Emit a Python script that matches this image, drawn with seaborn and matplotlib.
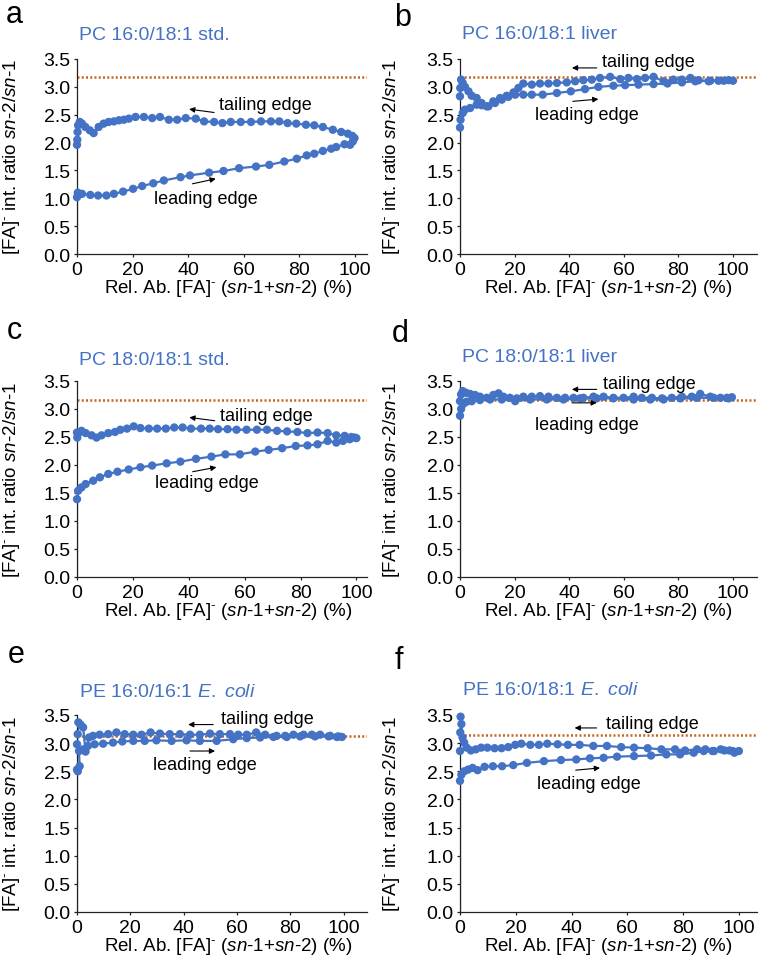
import numpy as np
import pandas as pd
import matplotlib
matplotlib.use("Agg")
import matplotlib.pyplot as plt
import seaborn as sns

# ---------------- data ----------------
# panel a: PC 16:0/18:1 std.
a_lead_x = [0, 0, 0.3, 1.8, 4.8, 7.6, 10.6, 13.3, 16.6, 20.2, 23.5, 27.5, 31.3, 37.3, 40.7, 47.6, 52.8,
            58.4, 64.5, 69.3, 74.7, 79.2, 82.8, 85.5, 88.6, 91.6, 93.4, 96.4, 98.4, 99.4]
a_lead_y = [0, 1.02, 1.10, 1.08, 1.06, 1.05, 1.05, 1.08, 1.12, 1.17, 1.22, 1.27, 1.32, 1.38, 1.41, 1.46, 1.49,
            1.54, 1.57, 1.60, 1.66, 1.71, 1.77, 1.80, 1.85, 1.89, 1.92, 1.97, 1.96, 2.02]
a_tail_x = [100, 99.2, 97.6, 95.2, 92.2, 88.6, 85.5, 82.5, 79, 75.9, 72.9, 69.9, 66.3, 62.7, 59, 55.4, 52.4,
            49.4, 45.8, 42.8, 39.2, 36.1, 33.1, 29.9, 27.1, 24.1, 21.1, 18.7, 16.9, 15.1, 13.3, 11.4, 9.6,
            7.8, 6.0, 4.6, 3.0, 1.8, 1.0, 0.4, 0.2, 0.1, 0]
a_tail_y = [2.08, 2.12, 2.16, 2.19, 2.23, 2.28, 2.31, 2.32, 2.34, 2.35, 2.38, 2.38, 2.38, 2.37, 2.37, 2.37, 2.35,
            2.37, 2.38, 2.43, 2.44, 2.41, 2.41, 2.46, 2.44, 2.46, 2.46, 2.43, 2.41, 2.40, 2.38, 2.37, 2.34,
            2.28, 2.17, 2.22, 2.28, 2.34, 2.37, 2.31, 2.19, 2.05, 1.96]

# panel b: PC 16:0/18:1 liver
b_lead_x = [0, 0, 0.2, 1, 1.8, 3.7, 6.1, 7.9, 10.4, 12.8, 15.3, 17.7, 20.2, 23.2, 26.3, 30.3, 35.5, 40.6,
            45.8, 50.7, 56.2, 60.5, 65.4, 70.9, 76, 81.3, 86.2, 91.7, 96.6, 100]
b_lead_y = [0, 2.27, 2.41, 2.53, 2.59, 2.62, 2.68, 2.67, 2.65, 2.71, 2.77, 2.82, 2.86, 2.86, 2.86, 2.86, 2.89,
            2.92, 2.96, 3.0, 3.02, 3.03, 3.04, 3.05, 3.06, 3.08, 3.10, 3.11, 3.11, 3.11]
b_tail_x = [98.4, 94.7, 91.1, 87.4, 84.4, 81.3, 78.2, 74.6, 70.9, 67.8, 64.8, 61.7, 58.7, 55, 51.3, 48.3,
            45.2, 42.2, 39.1, 35.5, 32.4, 29.3, 26.3, 23.2, 21.4, 19.6, 17.1, 14.7, 12.2, 9.8, 7.9, 6.1,
            4.3, 3.1, 1.8, 1, 0.4, 0.1, 0]
b_tail_y = [3.12, 3.11, 3.10, 3.12, 3.16, 3.13, 3.13, 3.10, 3.18, 3.16, 3.14, 3.16, 3.14, 3.18, 3.16, 3.13,
            3.12, 3.10, 3.08, 3.07, 3.06, 3.06, 3.04, 3.06, 2.98, 2.90, 2.84, 2.80, 2.74, 2.65, 2.71, 2.80,
            2.84, 2.92, 3.0, 3.07, 3.13, 2.98, 2.83]

# panel c: PC 18:0/18:1 std.
c_lead_x = [0, 0, 0.4, 1.6, 3.1, 5.8, 8.2, 11.2, 14.5, 18.5, 22.7, 26.9, 32.1, 37, 42.6, 48.1, 53.1, 58.3,
            63.8, 68.6, 73.4, 78.3, 82.5, 86.1, 89.7, 92.8, 95.2, 97.6, 99.4, 100]
c_lead_y = [0, 1.39, 1.54, 1.60, 1.66, 1.72, 1.78, 1.84, 1.88, 1.92, 1.96, 1.99, 2.03, 2.06, 2.11, 2.15, 2.19,
            2.19, 2.24, 2.27, 2.30, 2.34, 2.35, 2.37, 2.43, 2.40, 2.43, 2.46, 2.49, 2.48]
c_tail_x = [98.2, 95.8, 92.8, 89.7, 86.1, 82.5, 78.9, 75.2, 71.6, 68, 64.4, 60.7, 57.1, 53.9, 50.5, 47.5,
            44.4, 40.8, 37.8, 34.8, 31.8, 28.7, 25.7, 22.7, 20.3, 17.9, 15.5, 13.6, 11.2, 8.8, 7, 5.2, 3.1,
            1.6, 0.7, 0.1, 0]
c_tail_y = [2.50, 2.52, 2.53, 2.57, 2.58, 2.57, 2.59, 2.60, 2.61, 2.63, 2.63, 2.63, 2.63, 2.64, 2.64, 2.65,
            2.65, 2.65, 2.67, 2.67, 2.65, 2.65, 2.65, 2.66, 2.69, 2.65, 2.63, 2.59, 2.57, 2.53, 2.49, 2.53,
            2.57, 2.61, 2.58, 2.49, 2.58]

# panel d: PC 18:0/18:1 liver
d_lead_x = [0, 0, 0.4, 1.2, 2.4, 4.3, 7.3, 11, 15.3, 20.2, 25.7, 31.8, 37.9, 44, 50.1, 56.2, 63.6, 69.7,
            74.6, 80.7, 86.8, 92.9, 97.8, 99.6]
d_lead_y = [0, 2.88, 3.0, 3.09, 3.13, 3.14, 3.16, 3.17, 3.17, 3.14, 3.17, 3.17, 3.17, 3.19, 3.19, 3.19, 3.17,
            3.17, 3.17, 3.19, 3.20, 3.20, 3.20, 3.21]
d_tail_x = [98.4, 95.4, 91.7, 88, 84.9, 81.3, 77.6, 74, 70.3, 66.6, 63.6, 59.9, 56.2, 52.6, 48.9, 45.2,
            41.6, 38.5, 35.5, 32.4, 29.3, 26.3, 23.2, 20.8, 18.3, 15.9, 14.1, 12.2, 9.8, 7.3, 5.5, 3.7, 2.2,
            1, 0.4, 0]
d_tail_y = [3.19, 3.20, 3.22, 3.27, 3.22, 3.22, 3.20, 3.19, 3.20, 3.20, 3.22, 3.20, 3.20, 3.22, 3.22, 3.20,
            3.20, 3.20, 3.20, 3.22, 3.23, 3.22, 3.22, 3.19, 3.20, 3.22, 3.28, 3.25, 3.20, 3.22, 3.25, 3.27,
            3.29, 3.32, 3.26, 3.14]

# panel e: PE 16:0/16:1 E. coli
e_lead_x = [0, 0, 0.3, 1, 0.75, 2.3, 4.1, 6.6, 9.8, 13.5, 17, 21.1, 25.4, 29.8, 35.5, 41.1, 46.1, 52.4,
            58.6, 63.7, 68.7, 73.7, 78.7, 83.7, 89.3, 94.4, 97.5, 99.4]
e_lead_y = [0, 2.53, 2.50, 2.59, 2.86, 2.89, 2.95, 2.98, 2.99, 3.01, 3.03, 3.04, 3.04, 3.05, 3.04, 3.05,
            3.04, 3.04, 3.07, 3.09, 3.10, 3.11, 3.11, 3.12, 3.12, 3.12, 3.11, 3.11]
e_tail_x = [98.1, 95, 91.2, 88.1, 85, 81.2, 78.1, 74.9, 70.6, 67.2, 63.7, 60.5, 57.4, 53.6, 49.9, 46.1,
            42.4, 38.6, 34.8, 31.1, 27.6, 24.2, 21.1, 17.9, 14.8, 11.7, 8.5, 6, 4.5, 3.2, 2.3, 1.3, 0.5,
            0.25, 0]
e_tail_y = [3.12, 3.13, 3.15, 3.15, 3.15, 3.15, 3.13, 3.13, 3.15, 3.19, 3.15, 3.15, 3.16, 3.16, 3.17, 3.15,
            3.15, 3.16, 3.16, 3.17, 3.19, 3.15, 3.15, 3.16, 3.19, 3.16, 3.15, 3.13, 3.10, 2.85, 3.28, 3.33,
            3.37, 3.16, 2.98]

# panel f: PE 16:0/18:1 E. coli
f_lead_x = [0, 0, 0.5, 1.5, 2.9, 4.5, 6.3, 8.8, 11.8, 15.1, 19.1, 24, 30.1, 36.2, 41.7, 46.6, 51.5, 56.3,
            62.4, 68.5, 74, 78.9, 83.8, 87.4, 91.1, 94.8, 97.8, 100]
f_lead_y = [0, 2.33, 2.44, 2.50, 2.53, 2.56, 2.52, 2.58, 2.59, 2.59, 2.61, 2.65, 2.68, 2.70, 2.71, 2.73,
            2.74, 2.76, 2.77, 2.78, 2.80, 2.80, 2.83, 2.86, 2.86, 2.87, 2.86, 2.86]
f_tail_x = [98.4, 96.6, 93.5, 90.5, 88, 85, 80.7, 77.1, 72.2, 67.3, 62.4, 57.8, 52.7, 47.8, 42.9, 38.7,
            35, 31.3, 28.3, 25.2, 22, 19.8, 17.3, 14.9, 12.4, 9.8, 7.6, 5.7, 3.9, 2.4, 1.5, 0.9, 0.5, 0.2,
            0.1, 0]
f_tail_y = [2.83, 2.87, 2.89, 2.86, 2.89, 2.89, 2.87, 2.89, 2.89, 2.91, 2.92, 2.93, 2.95, 2.95, 2.97, 2.97,
            2.98, 2.99, 2.97, 2.97, 2.99, 2.97, 2.93, 2.91, 2.91, 2.92, 2.92, 2.89, 2.87, 2.92, 3.01, 3.10,
            3.34, 3.47, 3.19, 2.86]

panel_letters = ["a", "b", "c", "d", "e", "f"]
panel_titles = ["PC 16:0/18:1 std.", "PC 16:0/18:1 liver",
                "PC 18:0/18:1 std.", "PC 18:0/18:1 liver",
                r"PE 16:0/16:1 $\mathit{E.}$ $\mathit{coli}$", r"PE 16:0/18:1 $\mathit{E.}$ $\mathit{coli}$"]
reference_ratio = [3.18, 3.18, 3.16, 3.16, 3.12, 3.14]
y_ticks = [0.0, 0.5, 1.0, 1.5, 2.0, 2.5, 3.0, 3.5]
x_ticks = [0, 20, 40, 60, 80, 100]

series = [(a_lead_x, a_lead_y, a_tail_x, a_tail_y),
          (b_lead_x, b_lead_y, b_tail_x, b_tail_y),
          (c_lead_x, c_lead_y, c_tail_x, c_tail_y),
          (d_lead_x, d_lead_y, d_tail_x, d_tail_y),
          (e_lead_x, e_lead_y, e_tail_x, e_tail_y),
          (f_lead_x, f_lead_y, f_tail_x, f_tail_y)]

# ---------------- layout / style ----------------
sns.set_theme(style="ticks")
plt.rcParams["font.family"] = ["Liberation Sans", "DejaVu Sans"]
plt.rcParams["mathtext.fontset"] = "custom"
plt.rcParams["mathtext.rm"] = "Liberation Sans"
plt.rcParams["mathtext.it"] = "Liberation Sans:italic"
plt.rcParams["mathtext.bf"] = "Liberation Sans:bold"

BLUE = "#4472C4"
ORANGE = "#C5651F"
W, H = 761, 962
fig = plt.figure(figsize=(W / 100, H / 100), dpi=100)

col_left = [77, 460]
col_width = [290, 297]
row_top = [60, 382, 716]
row_h = [195, 196, 197]
xlims = [104.5, 108.8, 103.8, 108.8, 108.8, 106.5]

# arrow/text placement (data coords): tail text, tail arrow start/end, lead text, lead arrow start/end
annots = [
    dict(tt=(51.2, 2.68), ta=((49.4, 2.54), (40.4, 2.60)), lt=(27.7, 1.00), la=((41.6, 1.26), (50.0, 1.35))),
    dict(tt=(52.0, 3.46), ta=((50.1, 3.34), (41.0, 3.34)), lt=(27.5, 2.50), la=((41.3, 2.74), (50.7, 2.78))),
    dict(tt=(51.1, 2.89), ta=((49.3, 2.79), (40.2, 2.85)), lt=(28.0, 1.68), la=((41.4, 1.88), (49.9, 1.96))),
    dict(tt=(52.3, 3.46), ta=((50.1, 3.35), (41.0, 3.35)), lt=(27.5, 2.73), la=((41.0, 3.11), (50.1, 3.11))),
    dict(tt=(53.9, 3.43), ta=((51.1, 3.33), (41.7, 3.33)), lt=(28.6, 2.62), la=((42.4, 2.86), (51.8, 2.86))),
    dict(tt=(52.4, 3.35), ta=((49.0, 3.27), (41.1, 3.27)), lt=(27.7, 2.28), la=((41.5, 2.52), (50.2, 2.56))),
]
letter_pos = [(6, 23), (394, 26), (7, 339), (392, 342), (8, 663), (395, 669)]
title_gap = [20, 21, 17, 20, 19, 21]

ylab = r"[FA]$^{\text{-}}$ int. ratio $\mathit{sn}$-$\mathit{2/sn}$-$\mathit{1}$"
xlab = r"Rel. Ab. [FA]$^{\text{-}}$ ($\mathit{sn}$-$\mathit{1}$+$\mathit{sn}$-$\mathit{2}$) (%)"

for i in range(6):
    r, c = divmod(i, 2)
    l = col_left[c]
    w = col_width[c]
    t = row_top[r]
    h = row_h[r]
    ax = fig.add_axes([l / W, 1 - (t + h) / H, w / W, h / H])
    lx, ly, tx, ty = series[i]
    line_df = pd.DataFrame({"x": lx + tx, "y": ly + ty})
    pts_df = pd.DataFrame({"x": lx[1:] + tx, "y": ly[1:] + ty})

    ax.axhline(reference_ratio[i], color=ORANGE, lw=1.8, ls=(0, (0.8, 0.9)), zorder=1)
    sns.lineplot(data=line_df, x="x", y="y", sort=False, estimator=None, color=BLUE,
                 lw=1.6, ax=ax, zorder=2)
    sns.scatterplot(data=pts_df, x="x", y="y", color=BLUE, s=36, edgecolor="none",
                    linewidth=0, ax=ax, zorder=3, clip_on=False)

    ax.set_xlim(0, xlims[i])
    ax.set_ylim(0, 3.5)
    ax.set_yticks(y_ticks)
    ax.set_yticklabels([f"{v:.1f}" for v in y_ticks])
    ax.set_xticks(x_ticks)
    ax.tick_params(axis="both", labelsize=14, length=2.5, width=0.9, color="#222222",
                   labelcolor="black")
    ax.tick_params(axis="y", pad=2)
    ax.tick_params(axis="x", pad=2.5)
    for side in ("top", "right"):
        ax.spines[side].set_visible(False)
    for side in ("left", "bottom"):
        ax.spines[side].set_color("#222222")
        ax.spines[side].set_linewidth(0.9)

    ax.set_xlabel(xlab, fontsize=13.5, color="black")
    ax.set_ylabel(ylab, fontsize=13.5, color="black")
    ax.xaxis.set_label_coords(0.52 if c == 0 else 0.50, -0.118)
    ax.yaxis.set_label_coords(-0.19 if c == 0 else -0.196, 0.5)

    ax.text(0.007, 1 + title_gap[i] / h, panel_titles[i], transform=ax.transAxes,
            ha="left", va="baseline", fontsize=14, color=BLUE)

    an = annots[i]
    ax.text(an["tt"][0], an["tt"][1], "tailing edge", ha="left", va="center", fontsize=13, color="black")
    ax.text(an["lt"][0], an["lt"][1], "leading edge", ha="left", va="center", fontsize=13, color="black")
    for key in ("ta", "la"):
        (x0, y0), (x1, y1) = an[key]
        ax.annotate("", xy=(x1, y1), xytext=(x0, y0),
                    arrowprops=dict(arrowstyle="-|>", color="black", lw=0.8,
                                    mutation_scale=8, shrinkA=0, shrinkB=0))

    lxp, lyp = letter_pos[i]
    fig.text(lxp / W, 1 - lyp / H, panel_letters[i], fontsize=22, ha="left", va="baseline",
             color="black")

fig.savefig("out.png", dpi=100)
